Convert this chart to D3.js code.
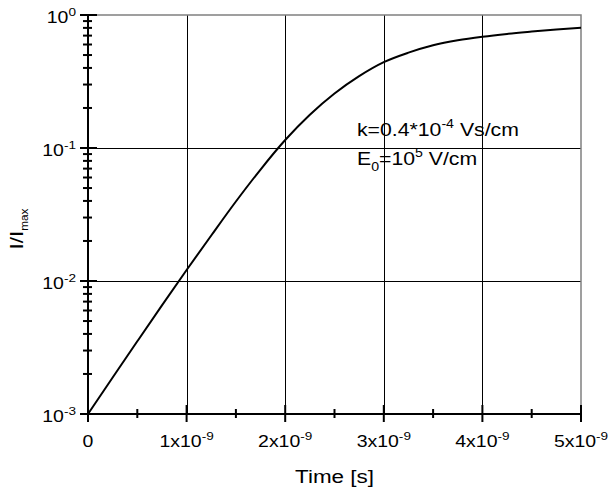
<!DOCTYPE html>
<html>
<head>
<meta charset="utf-8">
<script src="https://cdn.jsdelivr.net/npm/d3@7"></script>
<style>
  html, body { margin: 0; padding: 0; background: #fff; }
  svg { display: block; }
  text { font-family: "Liberation Sans", Arial, Helvetica, sans-serif; fill: #000; }
</style>
</head>
<body>
<svg id="chart" width="610" height="491"></svg>
<script>
// Normalised current I/Imax versus time
const times = [0, 0.25e-9, 0.5e-9, 0.75e-9, 1.0e-9, 1.25e-9, 1.5e-9, 1.75e-9, 2.0e-9,
               2.25e-9, 2.5e-9, 2.75e-9, 3.0e-9, 3.25e-9, 3.5e-9, 3.75e-9, 4.0e-9,
               4.25e-9, 4.5e-9, 4.75e-9, 5.0e-9];
const currentRatio = [0.00100, 0.00188, 0.00352, 0.00656, 0.0121, 0.0220, 0.0396, 0.0689, 0.1148,
                      0.178, 0.257, 0.347, 0.442, 0.521, 0.592, 0.646, 0.687,
                      0.721, 0.750, 0.778, 0.803];

// Axis ticks and their labels
const xMajorTicks = [0, 1e-9, 2e-9, 3e-9, 4e-9, 5e-9];
const xTickMantissas = ["0", "1", "2", "3", "4", "5"];
const xTickExponent = "-9";
const xMinorTicks = [0.5e-9, 1.5e-9, 2.5e-9, 3.5e-9, 4.5e-9];
const yMajorTicks = [1e-3, 1e-2, 1e-1, 1];
const yTickExponents = ["-3", "-2", "-1", "0"];

// Annotation text
const annotationLine1 = { base: "k=0.4*10", sup: "-4", tail: " Vs/cm" };
const annotationLine2 = { base: "E", sub: "0", mid: "=10", sup: "5", tail: " V/cm" };

const svg = d3.select("#chart");
const plotLeft = 88, plotRight = 581, plotTop = 15, plotBottom = 414;
const stretch = 1.18;

const x = d3.scaleLinear().domain([0, 5e-9]).range([plotLeft, plotRight]);
const y = d3.scaleLog().domain([1e-3, 1]).range([plotBottom, plotTop]);

// minor ticks for the log axis: 2..9 in each decade
const yMinorTicks = [];
for (let e = -3; e < 0; e++) {
  for (let m = 2; m <= 9; m++) yMinorTicks.push(m * Math.pow(10, e));
}

// grid
const grid = svg.append("g").attr("stroke", "#000").attr("stroke-width", 1).attr("shape-rendering", "crispEdges");
grid.selectAll("line.gx").data(xMajorTicks.slice(1, -1)).join("line")
  .attr("x1", d => Math.round(x(d)) + 0.5).attr("x2", d => Math.round(x(d)) + 0.5)
  .attr("y1", plotTop).attr("y2", plotBottom);
grid.selectAll("line.gy").data(yMajorTicks.slice(1, -1)).join("line")
  .attr("y1", d => Math.round(y(d)) + 0.5).attr("y2", d => Math.round(y(d)) + 0.5)
  .attr("x1", plotLeft).attr("x2", plotRight);

// frame: top and right in grey
svg.append("path")
  .attr("d", `M${plotLeft},${plotTop}H${plotRight}V${plotBottom}`)
  .attr("fill", "none").attr("stroke", "#808080").attr("stroke-width", 1.5);

// curve
const line = d3.line()
  .x((d, i) => x(times[i]))
  .y(d => y(d))
  .curve(d3.curveMonotoneX);
svg.append("path")
  .datum(currentRatio)
  .attr("d", line)
  .attr("fill", "none")
  .attr("stroke", "#000")
  .attr("stroke-width", 2);

// axes lines
const axes = svg.append("g").attr("stroke", "#000").attr("stroke-width", 2);
axes.append("line").attr("x1", plotLeft).attr("x2", plotLeft).attr("y1", plotTop).attr("y2", plotBottom + 1);
axes.append("line").attr("x1", plotLeft - 1).attr("x2", plotRight).attr("y1", plotBottom).attr("y2", plotBottom);

// y ticks (crossing the axis)
axes.selectAll("line.ymaj").data(yMajorTicks).join("line")
  .attr("x1", plotLeft - 8).attr("x2", plotLeft + 9)
  .attr("y1", d => y(d)).attr("y2", d => y(d));
axes.selectAll("line.ymin").data(yMinorTicks).join("line")
  .attr("x1", plotLeft - 5).attr("x2", plotLeft + 4)
  .attr("y1", d => y(d)).attr("y2", d => y(d));

// x ticks (crossing the axis)
axes.selectAll("line.xmaj").data(xMajorTicks).join("line")
  .attr("x1", d => x(d)).attr("x2", d => x(d))
  .attr("y1", plotBottom - 9).attr("y2", plotBottom + 8);
axes.selectAll("line.xmin").data(xMinorTicks).join("line")
  .attr("x1", d => x(d)).attr("x2", d => x(d))
  .attr("y1", plotBottom - 5).attr("y2", plotBottom + 4);

// helper: horizontally stretched text group
function stretched(px, py, anchor, rotate) {
  const g = svg.append("g")
    .attr("transform", `translate(${px},${py})` + (rotate ? ` rotate(${rotate})` : "") + ` scale(${stretch},1)`);
  return g.append("text").attr("text-anchor", anchor);
}

// y tick labels: 10^n
yMajorTicks.forEach((v, i) => {
  const t = stretched(plotLeft - 12, y(v) + 8, "end");
  t.style("font-size", "16.5px");
  t.append("tspan").text("10");
  t.append("tspan").attr("dy", -7).style("font-size", "11.5px").text(yTickExponents[i]);
});

// x tick labels: m x 10^-9
xMajorTicks.forEach((v, i) => {
  const t = stretched(x(v), 446.5, "middle");
  t.style("font-size", "16.5px");
  if (v === 0) {
    t.text(xTickMantissas[i]);
  } else {
    t.append("tspan").text(xTickMantissas[i] + "x10");
    t.append("tspan").attr("dy", -7).style("font-size", "11.5px").text(xTickExponent);
  }
});

// axis titles
const xt = stretched((plotLeft + plotRight) / 2, 483, "middle");
xt.style("font-size", "19px").text("Time [s]");

const yt = stretched(23, 229, "middle", -90);
yt.style("font-size", "19px");
yt.append("tspan").text("I/I");
yt.append("tspan").attr("dy", 5).style("font-size", "10px").text("max");

// annotation
const a1 = stretched(357, 136, "start");
a1.style("font-size", "18px");
a1.append("tspan").text(annotationLine1.base);
a1.append("tspan").attr("dy", -8).style("font-size", "12px").text(annotationLine1.sup);
a1.append("tspan").attr("dy", 8).text(annotationLine1.tail);

const a2 = stretched(357, 165, "start");
a2.style("font-size", "18px");
a2.append("tspan").text(annotationLine2.base);
a2.append("tspan").attr("dy", 6).style("font-size", "12px").text(annotationLine2.sub);
a2.append("tspan").attr("dy", -6).text(annotationLine2.mid);
a2.append("tspan").attr("dy", -8).style("font-size", "12px").text(annotationLine2.sup);
a2.append("tspan").attr("dy", 8).text(annotationLine2.tail);
</script>
</body>
</html>
